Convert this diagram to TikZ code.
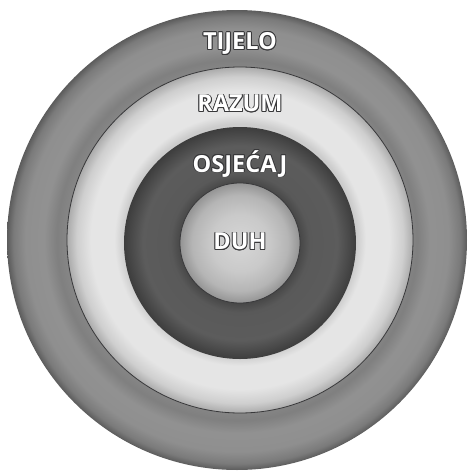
\documentclass[tikz,border=0pt]{standalone}
\usepackage{fontspec}
\setsansfont{Open Sans}
\usepackage[copies]{contour}
\usepackage{xcolor}
\usetikzlibrary{positioning}

\definecolor{rimline}{HTML}{38383A}
\contourlength{0.85pt}
\contournumber{12}

% radial shadings, 25bp = radius of the circle
\pgfdeclareradialshading{tijeloshade}{\pgfpoint{0bp}{0bp}}{%
  color(0bp)=(black!48); color(18.8bp)=(black!48); color(19.6bp)=(black!50);
  color(21bp)=(black!43); color(23bp)=(black!44); color(24.3bp)=(black!52);
  color(25bp)=(black!64); color(50bp)=(black!64)}
\pgfdeclareradialshading{razumshade}{\pgfpoint{0bp}{0bp}}{%
  color(0bp)=(black!20); color(16.8bp)=(black!20); color(18.2bp)=(black!10);
  color(21.5bp)=(black!10); color(23.6bp)=(black!19); color(25bp)=(black!33);
  color(50bp)=(black!33)}
\pgfdeclareradialshading{osjecajshade}{\pgfpoint{0bp}{0bp}}{%
  color(0bp)=(black!70); color(12.9bp)=(black!72); color(15bp)=(black!65);
  color(21bp)=(black!64); color(25bp)=(black!76); color(50bp)=(black!76)}
\pgfdeclareradialshading{duhshade}{\pgfpoint{0bp}{0bp}}{%
  color(0bp)=(black!16); color(12bp)=(black!21); color(20bp)=(black!29);
  color(25bp)=(black!42); color(50bp)=(black!42)}

\begin{document}
\begin{tikzpicture}[x=1pt, y=-1pt,
    ring/.style={circle, inner sep=0pt},
    label/.style={font=\sffamily\bfseries\fontsize{23.5}{23.5}\selectfont}]
    \useasboundingbox (0,0) rectangle (472,472);

    \node[ring, minimum size=460pt, shading=tijeloshade] (tijelo) at (237,240) {};
    \node[ring, minimum size=346pt, shading=razumshade, draw=rimline, line width=0.8pt] (razum) at (240,240) {};
    \node[ring, minimum size=232pt, shading=osjecajshade] (osjecaj) at (240,243) {};
    \node[ring, minimum size=120pt, shading=duhshade, draw=rimline, line width=0.8pt] (duh) at (240,243) {};

    \node[label] (ltijelo) at (240,44) {\contour{rimline}{\color{white}TIJELO}};
    \node[label] (lrazum) at (240,104) {\contour{rimline}{\color{white}RAZUM}};
    \node[label] (losjecaj) at (240,164) {\contour{rimline}{\color{white}OSJEĆAJ}};
    \node[label] (lduh) at (240,242) {\contour{rimline}{\color{white}DUH}};
\end{tikzpicture}
\end{document}
